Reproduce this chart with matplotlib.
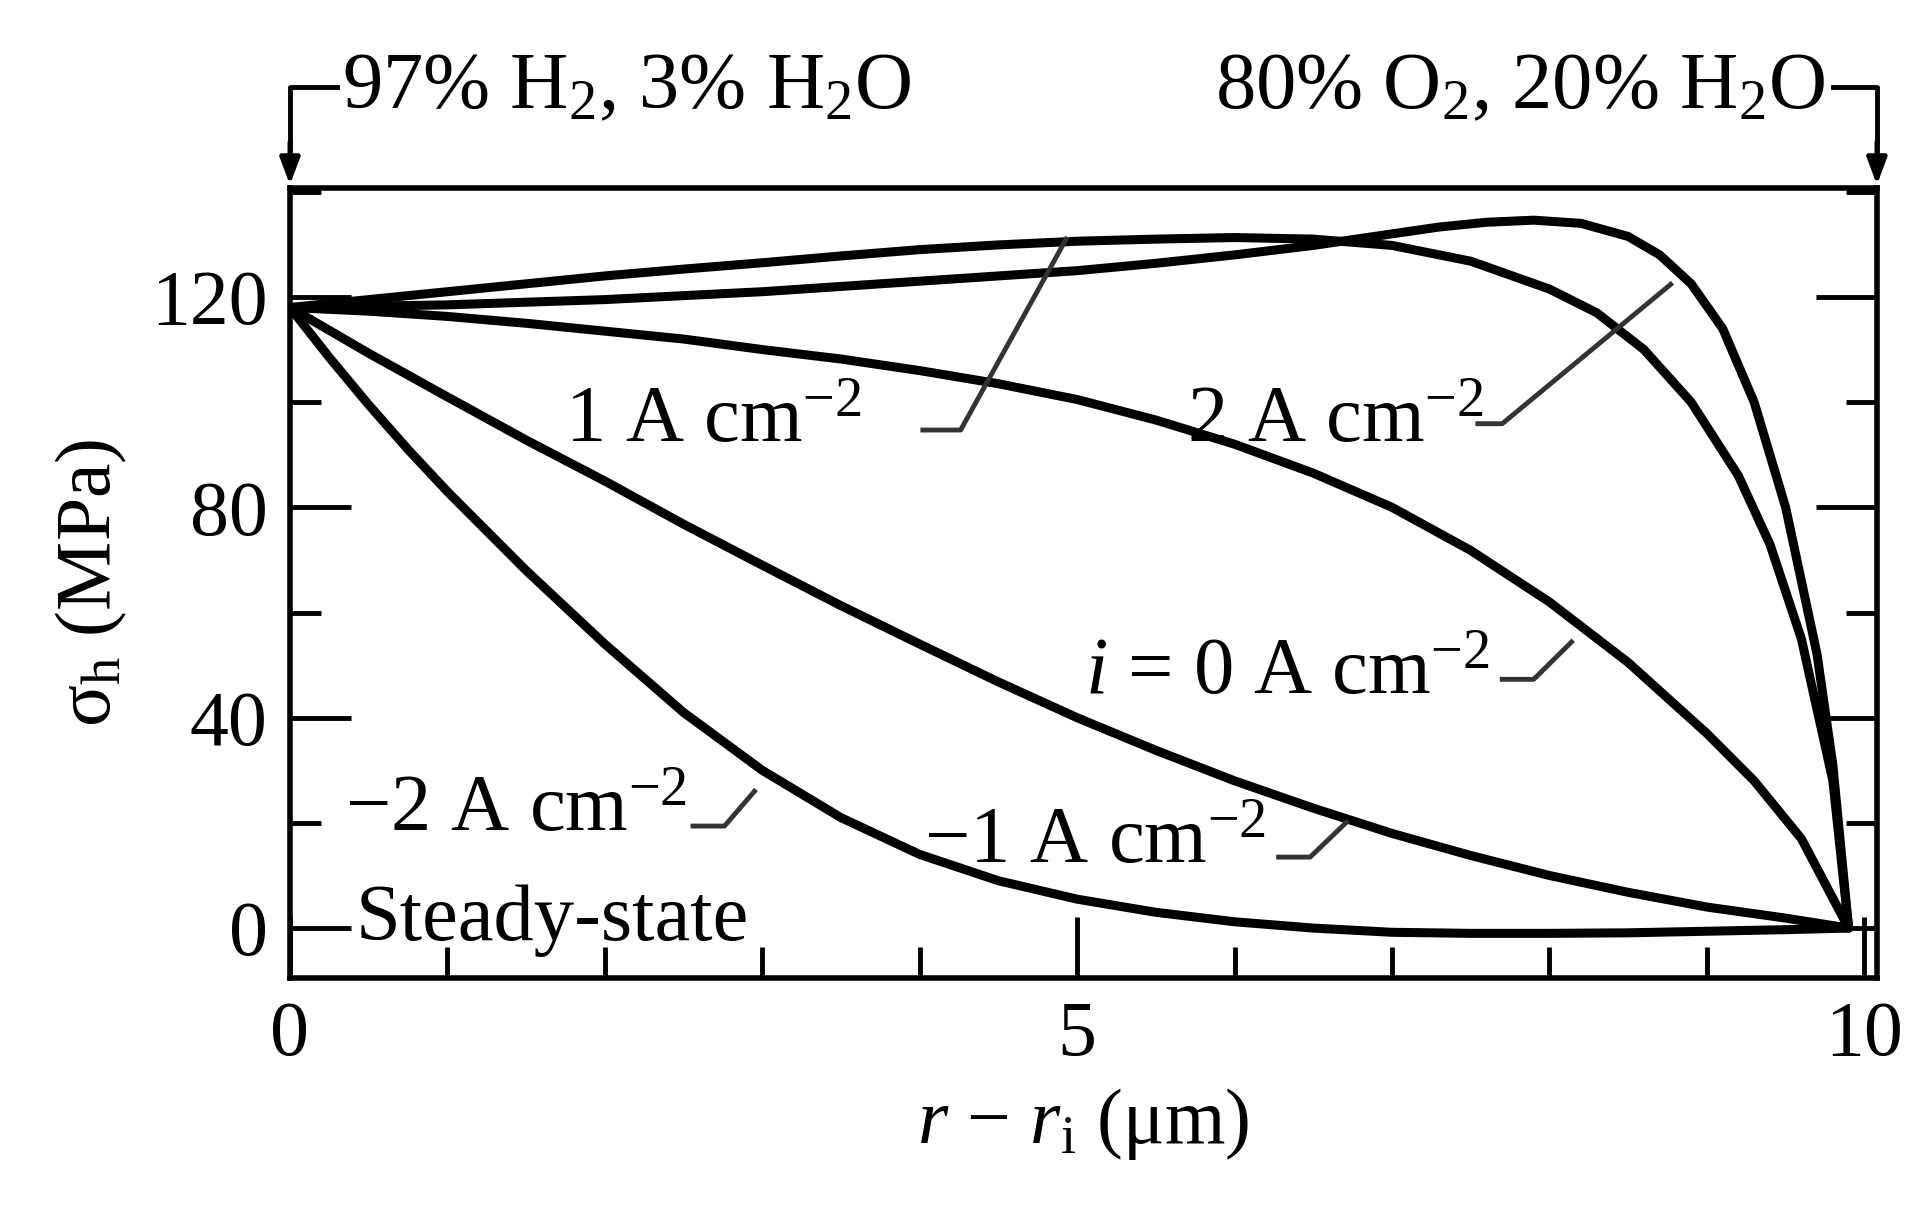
import matplotlib.pyplot as plt
from matplotlib.ticker import MultipleLocator

plt.rcParams['font.family'] = ['Liberation Serif', 'DejaVu Serif']
plt.rcParams['mathtext.fontset'] = 'custom'
plt.rcParams['mathtext.rm'] = 'Liberation Serif'
plt.rcParams['mathtext.it'] = 'Liberation Serif:italic'

x_i0 = [0, 0.5, 1, 1.5, 2, 2.5, 3, 3.5, 4, 4.5, 5, 5.5, 6, 6.5, 7, 7.5, 8, 8.5, 9, 9.3, 9.6, 9.9]
y_i0 = [118, 117.3, 116.3, 115, 113.5, 112, 110, 108.2, 106, 103.5, 100.5, 96.6, 92, 86.5, 80, 71.8, 62, 50.5, 37, 28, 17, 0]
x_p1 = [0, 0.5, 1, 1.5, 2, 2.5, 3, 3.5, 4, 4.5, 5, 5.5, 6, 6.5, 7, 7.5, 8, 8.3, 8.6, 8.9, 9.2, 9.4, 9.6, 9.8, 9.9]
y_p1 = [118, 119.5, 121, 122.5, 124, 125.3, 126.5, 127.8, 129, 129.9, 130.6, 131, 131.3, 131, 129.8, 126.8, 121.5, 117, 110, 100, 86, 73, 55, 28, 0]
x_p2 = [0, 1, 2, 3, 4, 5, 5.5, 6, 6.5, 7, 7.3, 7.6, 7.9, 8.2, 8.5, 8.7, 8.9, 9.1, 9.3, 9.5, 9.7, 9.8, 9.9]
y_p2 = [118, 118.5, 119.5, 121, 123, 125, 126.4, 128, 129.8, 132, 133.3, 134.2, 134.6, 134, 131.5, 128, 122.5, 114, 100, 80, 52, 31, 0]
x_m1 = [0, 0.5, 1, 1.5, 2, 2.5, 3, 3.5, 4, 4.5, 5, 5.5, 6, 6.5, 7, 7.5, 8, 8.5, 9, 9.5, 9.9]
y_m1 = [118, 109.3, 101, 92.8, 85, 76.8, 69, 61.3, 54, 46.8, 40, 33.8, 28, 22.8, 18, 13.8, 10, 6.8, 4, 1.9, 0]
x_m2 = [0, 0.25, 0.5, 0.75, 1, 1.25, 1.5, 2, 2.5, 3, 3.5, 4, 4.5, 5, 5.5, 6, 6.5, 7, 7.5, 8, 8.5, 9, 9.5, 9.9]
y_m2 = [118, 108.5, 99.5, 91, 83, 75.5, 68, 54, 41, 30, 21, 14, 9, 5.5, 3, 1.2, 0, -0.8, -1, -1, -0.9, -0.6, -0.3, 0]

fig = plt.figure(figsize=(19.33, 12.18), dpi=100)
ax = fig.add_axes([0.150, 0.197, 0.821, 0.649])
lw = 6.5
for xs, ys in [(x_i0, y_i0), (x_p1, y_p1), (x_p2, y_p2), (x_m1, y_m1), (x_m2, y_m2)]:
    ax.plot(xs, ys, color='black', lw=lw, solid_capstyle='round', solid_joinstyle='round')

ax.set_xlim(0, 10.08)
ax.set_ylim(-9.5, 140.8)
ax.xaxis.set_major_locator(MultipleLocator(5))
ax.xaxis.set_minor_locator(MultipleLocator(1))
ax.yaxis.set_major_locator(MultipleLocator(40))
ax.yaxis.set_minor_locator(MultipleLocator(20))
ax.tick_params(which='both', direction='in', right=True, top=False, width=3.5, labelsize=56, pad=16)
ax.tick_params(which='major', length=44)
ax.tick_params(which='minor', length=22)
for s in ax.spines.values():
    s.set_linewidth(4)
ax.set_xlabel(r'$r$ $-$ $r_{\rm i}$ (μm)', fontsize=56, labelpad=10)
ax.set_ylabel('σ$_{\\rm h}$ (MPa)', fontsize=56, labelpad=16)

fs = 58
lc = '#333333'
ax.text(3.63, 96, r'1 A cm$^{-2}$', fontsize=fs, ha='right', va='center')
ax.plot([4.02, 4.26, 4.93], [94.7, 94.7, 131], color=lc, lw=3.5)
ax.text(7.58, 96, r'2 A cm$^{-2}$', fontsize=fs, ha='right', va='center')
ax.plot([7.545, 7.7, 8.77], [95.9, 95.9, 122.4], color=lc, lw=3.5)
ax.text(7.62, 48, r'$i$ = 0 A cm$^{-2}$', fontsize=fs, ha='right', va='center')
ax.plot([7.70, 7.90, 8.14], [47.3, 47.3, 54.4], color=lc, lw=3.5)
ax.text(6.2, 16, r'$-$1 A cm$^{-2}$', fontsize=fs, ha='right', va='center')
ax.plot([6.28, 6.48, 6.71], [13.5, 13.5, 20.1], color=lc, lw=3.5)
ax.text(2.52, 22, r'$-$2 A cm$^{-2}$', fontsize=fs, ha='right', va='center')
ax.plot([2.56, 2.76, 2.95], [19.4, 19.4, 26], color=lc, lw=3.5)
ax.text(0.42, 1.5, 'Steady-state', fontsize=fs, ha='left', va='center')

# gas compositions with arrows above the axes
ax.text(0.33, 159.5, r'97% H$_2$, 3% H$_2$O', fontsize=fs, ha='left', va='center', clip_on=False)
ax.text(9.75, 159.5, r'80% O$_2$, 20% H$_2$O', fontsize=fs, ha='right', va='center', clip_on=False)
ax.plot([0.3, 0, 0], [160, 160, 148], color='black', lw=3.5, clip_on=False)
ax.plot([9.8, 10.08, 10.08], [160, 160, 148], color='black', lw=3.5, clip_on=False)
for xa in [0, 10.08]:
    ax.annotate('', xy=(xa, 140.8), xytext=(xa, 150), annotation_clip=False,
                arrowprops=dict(arrowstyle='-|>,head_width=0.6,head_length=1.6', color='black', lw=3.5))

fig.savefig('out.png', dpi=100)
